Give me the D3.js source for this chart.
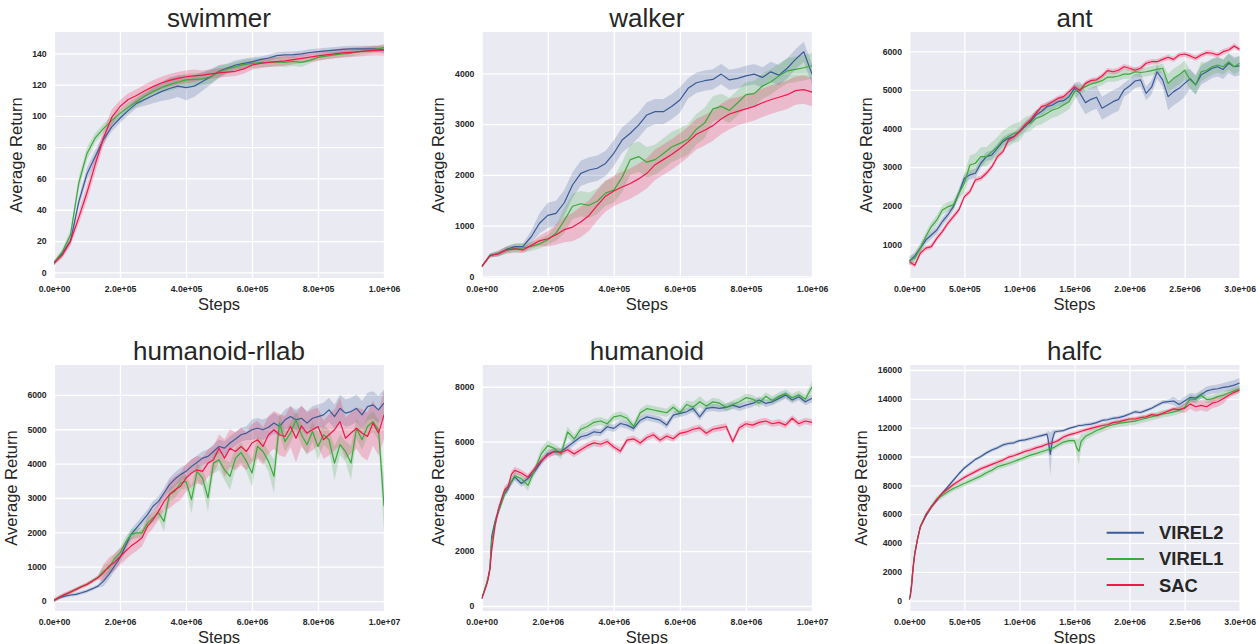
<!DOCTYPE html>
<html>
<head>
<meta charset="utf-8">
<script src="https://cdn.jsdelivr.net/npm/d3@7"></script>
<style>
  body { margin: 0; background: #fff; }
  text { font-family: "Liberation Sans", Arial, sans-serif; fill: #262626; }
</style>
</head>
<body>
<script>
// ---- data ----
const seriesNames = ["VIREL2", "VIREL1", "SAC"];
const seriesColors = ["#3a5a98", "#3aaa3a", "#f0174b"];

const shortSteps = [0,25000,50000,75000,100000,125000,150000,175000,200000,225000,250000,275000,300000,325000,350000,375000,400000,425000,450000,475000,500000,525000,550000,575000,600000,625000,650000,675000,700000,725000,750000,775000,800000,825000,850000,875000,900000,925000,950000,975000,1000000];
const antSteps = [0,50000,100000,150000,200000,250000,300000,350000,400000,450000,500000,550000,600000,650000,700000,750000,800000,850000,900000,950000,1000000,1050000,1100000,1150000,1200000,1250000,1300000,1350000,1400000,1450000,1500000,1550000,1600000,1650000,1700000,1750000,1800000,1850000,1900000,1950000,2000000,2050000,2100000,2150000,2200000,2250000,2300000,2350000,2400000,2450000,2500000,2550000,2600000,2650000,2700000,2750000,2800000,2850000,2900000,2950000,3000000];
const halfcSteps = [0,10000,20000,30000,40000,50000,75000,100000,150000,200000,250000,300000,350000,400000,450000,500000,550000,600000,650000,700000,750000,800000,850000,900000,950000,1000000,1050000,1100000,1150000,1200000,1250000,1260000,1280000,1300000,1320000,1350000,1400000,1450000,1500000,1520000,1540000,1560000,1600000,1650000,1700000,1750000,1800000,1850000,1900000,1950000,2000000,2050000,2100000,2150000,2200000,2250000,2300000,2350000,2400000,2450000,2500000,2550000,2600000,2650000,2700000,2750000,2800000,2850000,2900000,2950000,3000000];
const rllabSteps = [0,166667,333333,500000,666667,833333,1000000,1166667,1333333,1500000,1666667,1833333,2000000,2166667,2333333,2500000,2666667,2833333,3000000,3166667,3333333,3500000,3666667,3833333,4000000,4166667,4333333,4500000,4666667,4833333,5000000,5166667,5333333,5500000,5666667,5833333,6000000,6166667,6333333,6500000,6666667,6833333,7000000,7166667,7333333,7500000,7666667,7833333,8000000,8166667,8333333,8500000,8666667,8833333,9000000,9166667,9333333,9500000,9666667,9833333,10000000];
const humanoidSteps = [0,50000,100000,150000,200000,250000,300000,400000,500000,600000,700000,800000,900000,1000000,1200000,1400000,1600000,1800000,2000000,2200000,2400000,2600000,2800000,3000000,3200000,3400000,3600000,3800000,4000000,4200000,4400000,4600000,4800000,5000000,5200000,5400000,5600000,5800000,6000000,6200000,6400000,6600000,6800000,7000000,7200000,7400000,7600000,7800000,8000000,8200000,8400000,8600000,8800000,9000000,9200000,9400000,9600000,9800000,10000000];

// swimmer
const swimmerVirel2 = [6,12,20,45,63,74,85,93,98.5,103.5,108,110.5,113,115.5,117.5,119,118,119,122,125,128.5,130.5,132.5,133.5,134.5,136,137,138.5,139,139.2,139.6,140.5,141,141.6,142,142.5,142.8,142.8,142.8,142.8,142];
const swimmerVirel2Sd = [1.5,2,2,3,4,4,3,3,3,3,3,4,5,6,7,7,8,7,6,5,4,3,3,3,3,2,2,2,2,2,2,2,2,2,2,2,2,2,2,2,2];
const swimmerVirel1 = [6,13,24,57,76,86,92,97,101.6,105.5,109,112.5,115.5,118,120,121.5,123,123.3,123.6,125,128,130,131.5,132.8,133.5,134,134.2,134.5,134.2,134.8,134.2,135.5,137.4,138.2,139,139.6,140,141,141.7,142.5,143.6];
const swimmerVirel1Sd = [1.5,2,3,4,4,3,3,3,3,3,3,3,3,3,4,4,4,4,4,4,4,3,3,3,3,3,3,3,3,3,3,2,2,2,2,2,2,2,2,2,2];
const swimmerSac = [6,11,20,35,51,69,86,99,106,110.5,113,116,118.7,121,122.7,124,125,125.6,126,126.8,127.5,128,128.5,130,132.5,133.5,134.2,134.7,135.2,136,136.8,137.5,138.3,139,139.6,140.2,140.6,141,141.5,141.8,142.1];
const swimmerSacSd = [1.5,2,3,4,5,5,5,5,4,4,4,4,4,4,4,4,4,4,3,3,3,3,3,3,3,3,3,3,3,3,3,3,3,3,3,3,3,3,3,3,3.5];

// walker
const walkerVirel2 = [190,410,450,530,585,590,780,1045,1200,1240,1450,1800,2030,2095,2130,2225,2425,2685,2820,2980,3180,3245,3245,3345,3475,3705,3815,3855,3880,3985,3870,3900,3950,3985,3920,4030,3965,4100,4275,4425,3985];
const walkerVirel2Sd = [20,40,50,60,60,60,120,200,250,250,250,250,250,250,250,250,250,250,250,250,250,250,250,250,250,200,200,200,200,200,200,200,200,200,200,200,200,200,200,200,200];
const walkerVirel1 = [190,410,450,520,550,560,590,640,720,850,1100,1380,1430,1400,1480,1640,1700,1950,2300,2360,2250,2300,2420,2550,2620,2700,2900,3020,3300,3350,3270,3420,3580,3600,3750,3830,3950,4050,4080,4110,4150];
const walkerVirel1Sd = [20,40,60,80,90,90,90,90,100,150,250,250,250,250,250,250,250,300,300,300,300,300,300,300,300,300,300,300,250,250,250,250,250,250,250,250,250,250,250,250,250];
const walkerSac = [190,410,440,520,540,520,610,700,740,820,920,970,1070,1200,1400,1580,1680,1760,1830,1920,2030,2200,2300,2400,2520,2650,2800,2880,2970,3100,3200,3250,3300,3350,3420,3480,3530,3580,3660,3680,3630];
const walkerSacSd = [20,40,50,60,60,60,60,100,150,200,250,280,300,300,300,300,300,300,300,300,300,300,300,300,300,300,300,300,300,300,300,280,280,280,280,280,280,280,280,280,280];

// ant
const antVirel2 = [560,700,900,1110,1240,1370,1590,1760,1975,2320,2710,2800,2840,3100,3270,3315,3490,3660,3745,3790,3920,4050,4180,4350,4440,4565,4610,4695,4720,4825,5040,4910,4670,4755,4810,4525,4610,4695,4755,5000,5100,5230,5260,4910,5070,5470,5260,4825,4955,5040,5170,5290,5130,5390,5470,5560,5600,5530,5690,5600,5620];
const antVirel2Sd = [100,100,100,100,100,100,100,100,100,100,120,120,120,120,120,120,120,120,120,120,120,120,120,120,120,120,120,120,120,120,150,300,300,300,300,300,300,300,300,180,180,180,180,180,180,180,180,350,350,350,350,250,250,250,250,250,250,250,250,250,250];
const antVirel1 = [580,640,900,1200,1460,1630,1890,1975,2020,2320,2580,3055,3100,3270,3270,3400,3530,3700,3790,3875,3920,4090,4135,4265,4310,4395,4480,4525,4610,4695,4955,5015,5085,5155,5190,5240,5330,5330,5360,5410,5410,5470,5450,5470,5500,5530,5560,5170,5300,5390,5510,5260,5130,5470,5510,5600,5645,5600,5730,5600,5690];
const antVirel1Sd = [120,120,120,120,120,120,120,120,120,120,250,250,250,250,250,250,250,250,250,250,250,200,200,200,200,200,200,200,200,200,200,120,120,120,120,120,120,120,120,120,120,120,120,120,120,120,120,250,250,250,250,250,250,250,200,200,200,200,200,200,200];
const antSac = [550,460,770,900,940,1155,1330,1545,1715,1890,2235,2365,2665,2710,2840,3010,3270,3400,3700,3790,3920,4090,4220,4395,4565,4610,4695,4780,4825,4955,5085,4980,5170,5240,5260,5360,5500,5470,5510,5600,5560,5510,5560,5690,5730,5730,5790,5845,5790,5905,5930,5880,5820,5905,5965,5950,5905,5990,6035,6140,6050];
const antSacSd = [70,70,70,70,70,70,70,70,70,70,70,70,70,70,70,70,70,70,70,70,70,70,70,70,70,70,70,70,70,70,70,70,70,70,70,70,70,70,70,70,70,70,70,70,70,70,70,70,70,70,70,70,70,70,70,70,70,70,70,70,70];

// humanoid-rllab
const rllabVirel2 = [20,100,145,175,195,240,290,360,435,580,775,1015,1260,1600,1935,2130,2320,2515,2760,2900,3145,3390,3550,3680,3775,3920,4035,4160,4210,4355,4500,4450,4600,4715,4840,4890,4985,5030,4985,5060,5180,5080,5275,5370,5275,5320,5180,5320,5370,5420,5565,5370,5610,5470,5515,5610,5420,5660,5710,5565,5760];
const rllabVirel2Sd = [50,50,50,50,50,50,50,50,50,150,150,150,150,150,150,150,150,150,150,150,150,200,200,200,200,200,200,200,200,200,200,200,200,200,200,200,300,300,300,300,300,300,300,300,300,350,350,350,350,350,350,350,400,400,400,400,400,400,400,400,400];
const rllabVirel1 = [20,110,190,270,340,420,490,590,690,870,970,1230,1400,1710,1935,1985,1985,2275,2420,2565,2320,3100,3195,3435,3485,2950,3775,3580,3000,4015,4110,3820,3630,4160,4325,4065,3725,4500,4355,4065,3630,5180,4645,4890,5275,4840,4550,4935,4500,4840,4695,4015,4550,4355,4015,5030,4695,5080,5225,4985,2760];
const rllabVirel1Sd = [50,50,50,50,50,50,50,50,50,150,150,150,150,150,150,150,150,150,150,150,300,200,200,200,200,400,250,250,400,300,300,300,400,300,300,300,400,300,300,300,500,300,300,300,300,300,300,300,400,300,300,500,300,300,500,300,300,300,300,300,800];
const rllabSac = [20,115,195,260,340,415,485,580,680,820,1015,1130,1290,1450,1600,1710,1840,2180,2370,2610,2900,3100,3240,3340,3580,3725,3820,3775,4015,4110,4450,4160,4450,4355,4500,4355,4600,4695,4500,4840,4985,4840,4790,5080,4740,5100,4890,4985,5080,4695,4840,4985,5225,4740,4890,5030,4890,4790,5180,4890,5420];
const rllabSacSd = [60,60,60,60,60,60,60,60,60,250,250,250,250,250,250,250,250,250,250,250,250,400,400,400,400,400,400,400,400,400,400,550,550,550,550,550,550,550,550,550,550,600,600,600,700,600,600,600,550,550,600,600,700,600,600,600,700,700,650,650,700];

// humanoid
const humanoidVirel2 = [270,450,630,815,1060,1365,2520,3070,3430,3800,4100,4285,4530,4710,4470,4650,4900,5260,5565,5625,5625,5810,5990,6175,6235,6355,6320,6540,6480,6660,6600,6480,6780,6900,6845,6780,6600,6965,7025,7085,7210,6900,7210,7245,7210,7245,7330,7245,7330,7390,7515,7390,7450,7575,7695,7515,7635,7450,7575];
const humanoidVirel2Sd = [40,50,60,80,100,120,150,150,150,130,130,130,130,130,130,130,130,130,130,130,130,130,130,130,130,130,130,130,130,130,130,130,130,130,130,130,130,130,130,130,130,130,130,130,130,130,130,130,130,130,130,130,130,130,130,130,130,130,150];
const humanoidVirel1 = [270,460,640,830,1080,1400,2350,3000,3450,3750,4150,4350,4550,4750,4650,4400,4950,5550,5850,5750,5550,6350,6100,6450,6550,6700,6750,6650,6900,6950,6850,6550,7050,7200,7150,7100,7050,7250,7050,7350,7250,7450,7300,7450,7400,7250,7350,7450,7600,7550,7400,7650,7500,7650,7750,7600,7700,7550,8000];
const humanoidVirel1Sd = [40,50,60,80,100,120,150,150,150,150,150,150,150,150,150,200,150,200,200,150,200,200,150,150,150,150,150,150,150,150,150,150,150,150,150,150,150,150,150,150,200,200,150,150,150,150,150,150,150,150,150,150,150,150,150,150,150,150,200];
const humanoidSac = [270,420,600,770,1000,1350,2000,2900,3500,3900,4250,4350,4800,4950,4850,4700,5000,5300,5500,5650,5600,5700,5550,5700,5850,5950,5900,6000,5800,5650,6050,6100,5950,6150,6250,6050,6200,6100,6300,6350,6450,6500,6300,6450,6500,6550,6000,6500,6650,6600,6700,6750,6650,6700,6600,6850,6650,6750,6700];
const humanoidSacSd = [40,50,60,80,100,150,200,200,150,150,150,130,130,130,120,120,120,120,120,120,120,120,120,120,120,120,120,120,120,120,120,120,120,120,120,120,120,120,120,120,120,120,120,120,120,120,120,120,120,120,120,120,120,120,120,120,120,120,120];

// halfc
const halfcVirel2 = [100,500,1100,2000,2700,3300,4300,5100,5850,6500,6950,7450,7900,8350,8800,9200,9500,9800,10000,10250,10450,10600,10800,10900,10950,11100,11150,11250,11350,11450,11550,11200,10150,11200,11700,11750,11800,11950,12050,12100,12150,12150,12200,12250,12350,12500,12550,12650,12700,12800,12950,13100,13050,13200,13350,13550,13750,13800,13850,13600,13850,14100,14050,14300,14550,14650,14700,14800,14850,14950,15100];
const halfcVirel2Sd = [50,50,50,50,50,50,50,50,100,100,100,120,120,120,120,120,120,120,120,120,120,120,120,120,120,120,120,120,120,120,120,600,1500,600,150,100,100,100,100,100,100,100,120,120,120,120,120,120,120,120,120,120,120,120,120,120,150,150,300,300,300,300,300,300,300,300,300,300,350,350,350];
const halfcVirel1 = [70,450,1050,1950,2700,3300,4300,5150,5950,6500,7050,7300,7550,7780,7950,8125,8300,8475,8650,8870,9050,9285,9400,9515,9650,9795,9950,10095,10200,10325,10450,10480,10530,10580,10650,10800,11000,11100,11100,10600,10350,11050,11400,11600,11800,11950,12100,12200,12300,12350,12400,12450,12550,12650,12750,12850,12950,13000,13100,13200,13400,14000,13950,14250,13950,14000,14150,14250,14400,14550,14700];
const halfcVirel1Sd = [60,60,60,60,60,60,60,60,150,200,200,200,200,200,200,200,200,200,200,200,200,200,200,200,200,200,200,200,200,200,200,200,200,200,200,200,200,200,200,600,900,500,250,250,250,250,250,250,250,250,250,250,250,250,250,250,250,250,250,250,250,250,250,250,250,250,250,250,250,250,250];
const halfcSac = [50,350,900,1800,2600,3200,4250,5100,5950,6500,7000,7450,7750,8050,8300,8550,8750,8950,9150,9300,9450,9600,9750,9950,10050,10200,10350,10450,10600,10700,10850,10880,10900,10950,11000,11100,11350,11500,11600,11650,11700,11750,11850,11950,12050,12150,12200,12350,12400,12500,12600,12600,12700,12750,12900,12850,13000,13150,13300,13250,13350,13650,13450,13550,13450,13700,13800,14000,14250,14450,14600];
const halfcSacSd = [60,60,60,60,60,60,60,60,150,150,150,150,150,150,150,150,150,150,150,150,150,150,150,150,150,150,150,150,150,150,150,150,150,150,150,150,150,150,150,150,150,150,150,150,150,150,150,150,150,150,150,150,150,150,150,150,150,150,150,150,350,350,350,350,350,350,350,350,200,200,200];

// tick values
const shortXTicks = [0,200000,400000,600000,800000,1000000];
const longXTicks = [0,2000000,4000000,6000000,8000000,10000000];
const threeXTicks = [0,500000,1000000,1500000,2000000,2500000,3000000];
const swimmerYTicks = [0,20,40,60,80,100,120,140];
const walkerYTicks = [0,1000,2000,3000,4000];
const antYTicks = [1000,2000,3000,4000,5000,6000];
const rllabYTicks = [0,1000,2000,3000,4000,5000,6000];
const humanoidYTicks = [0,2000,4000,6000,8000];
const halfcYTicks = [0,2000,4000,6000,8000,10000,12000,14000,16000];

// ---- panels ----
const panels = [
  { title: "swimmer", steps: shortSteps, xmax: 1e6, ydom: [-3.6,153.6], xt: shortXTicks, yt: swimmerYTicks,
    mean: [swimmerVirel2, swimmerVirel1, swimmerSac], sd: [swimmerVirel2Sd, swimmerVirel1Sd, swimmerSacSd] },
  { title: "walker", steps: shortSteps, xmax: 1e6, ydom: [-33,4815], xt: shortXTicks, yt: walkerYTicks,
    mean: [walkerVirel2, walkerVirel1, walkerSac], sd: [walkerVirel2Sd, walkerVirel1Sd, walkerSacSd] },
  { title: "ant", steps: antSteps, xmax: 3e6, ydom: [127,6500], xt: threeXTicks, yt: antYTicks,
    mean: [antVirel2, antVirel1, antSac], sd: [antVirel2Sd, antVirel1Sd, antSacSd] },
  { title: "humanoid-rllab", steps: rllabSteps, xmax: 1e7, ydom: [-290,6871], xt: longXTicks, yt: rllabYTicks,
    mean: [rllabVirel2, rllabVirel1, rllabSac], sd: [rllabVirel2Sd, rllabVirel1Sd, rllabSacSd] },
  { title: "humanoid", steps: humanoidSteps, xmax: 1e7, ydom: [-183,8793], xt: longXTicks, yt: humanoidYTicks,
    mean: [humanoidVirel2, humanoidVirel1, humanoidSac], sd: [humanoidVirel2Sd, humanoidVirel1Sd, humanoidSacSd] },
  { title: "halfc", steps: halfcSteps, xmax: 3e6, ydom: [-721,16347], xt: threeXTicks, yt: halfcYTicks,
    mean: [halfcVirel2, halfcVirel1, halfcSac], sd: [halfcVirel2Sd, halfcVirel1Sd, halfcSacSd], legend: true }
];

const cols = [[54,384],[481.7,812],[909.3,1239.7]];
const rows = [[32,278],[365,611]];

function sci(v) {
  if (v === 0) return "0.0e+00";
  const e = Math.floor(Math.log10(v) + 1e-9);
  return (v / Math.pow(10, e)).toFixed(1) + "e+" + String(e).padStart(2, "0");
}

const svg = d3.select("body").append("svg").attr("width", 1258).attr("height", 644);

panels.forEach((p, i) => {
  const [left, right] = cols[i % 3];
  const [top, bottom] = rows[Math.floor(i / 3)];
  const x = d3.scaleLinear().domain([0, p.xmax]).range([left, right]);
  const y = d3.scaleLinear().domain(p.ydom).range([bottom, top]);
  const g = svg.append("g");

  g.append("rect").attr("x", left).attr("y", top).attr("width", right - left).attr("height", bottom - top)
    .attr("fill", "#eaeaf2");

  // grid
  const gx = g.append("g").attr("transform", `translate(0,${bottom})`)
    .call(d3.axisBottom(x).tickValues(p.xt).tickSize(-(bottom - top)).tickFormat(""));
  const gy = g.append("g").attr("transform", `translate(${left},0)`)
    .call(d3.axisLeft(y).tickValues(p.yt).tickSize(-(right - left)).tickFormat(""));
  [gx, gy].forEach(a => {
    a.select(".domain").remove();
    a.selectAll("line").attr("stroke", "#fff").attr("stroke-width", 1.3);
  });

  // tick labels
  const lx = g.append("g").attr("transform", `translate(0,${bottom})`)
    .call(d3.axisBottom(x).tickValues(p.xt).tickSize(0).tickPadding(8).tickFormat(sci));
  const ly = g.append("g").attr("transform", `translate(${left},0)`)
    .call(d3.axisLeft(y).tickValues(p.yt).tickSize(0).tickPadding(7.3).tickFormat(d3.format("d")));
  [lx, ly].forEach(a => {
    a.select(".domain").remove();
    a.selectAll("text").attr("font-size", 8.7).attr("font-weight", "bold")
      .attr("font-family", "'Liberation Sans', Arial, sans-serif").attr("fill", "#262626");
  });

  // curves
  const clipId = "clip" + i;
  g.append("clipPath").attr("id", clipId).append("rect")
    .attr("x", left).attr("y", top).attr("width", right - left).attr("height", bottom - top);
  const plot = g.append("g").attr("clip-path", `url(#${clipId})`);

  p.mean.forEach((m, s) => {
    const rowsData = p.steps.map((st, k) => ({ st, m: m[k], sd: p.sd[s][k] }));
    plot.append("path").datum(rowsData)
      .attr("fill", seriesColors[s]).attr("fill-opacity", 0.22)
      .attr("d", d3.area().x(d => x(d.st)).y0(d => y(d.m - d.sd)).y1(d => y(d.m + d.sd)));
  });
  p.mean.forEach((m, s) => {
    const rowsData = p.steps.map((st, k) => ({ st, m: m[k] }));
    plot.append("path").datum(rowsData)
      .attr("fill", "none").attr("stroke", seriesColors[s]).attr("stroke-width", 1.2)
      .attr("stroke-linejoin", "round")
      .attr("d", d3.line().x(d => x(d.st)).y(d => y(d.m)));
  });

  // titles and axis labels
  g.append("text").attr("x", (left + right) / 2).attr("y", top - 5.5)
    .attr("text-anchor", "middle").attr("font-size", 26).text(p.title);
  g.append("text").attr("x", (left + right) / 2).attr("y", bottom + 32)
    .attr("text-anchor", "middle").attr("font-size", 16.5).text("Steps");
  const maxW = d3.max(ly.selectAll("text").nodes(), n => n.getBBox().width);
  const yl = left - 7.3 - maxW - 7 - 3.5;
  g.append("text").attr("transform", `translate(${yl},${(top + bottom) / 2}) rotate(-90)`)
    .attr("text-anchor", "middle").attr("font-size", 16.5).text("Average Return");

  if (p.legend) {
    seriesNames.forEach((name, s) => {
      const ry = top + 167.7 + s * 26.2;
      g.append("line").attr("x1", right - 133).attr("x2", right - 95.7).attr("y1", ry).attr("y2", ry)
        .attr("stroke", seriesColors[s]).attr("stroke-width", 2);
      g.append("text").attr("x", right - 80.7).attr("y", ry).attr("dy", "0.35em")
        .attr("font-size", 18.4).attr("font-weight", "bold").text(name);
    });
  }
});
</script>
</body>
</html>
